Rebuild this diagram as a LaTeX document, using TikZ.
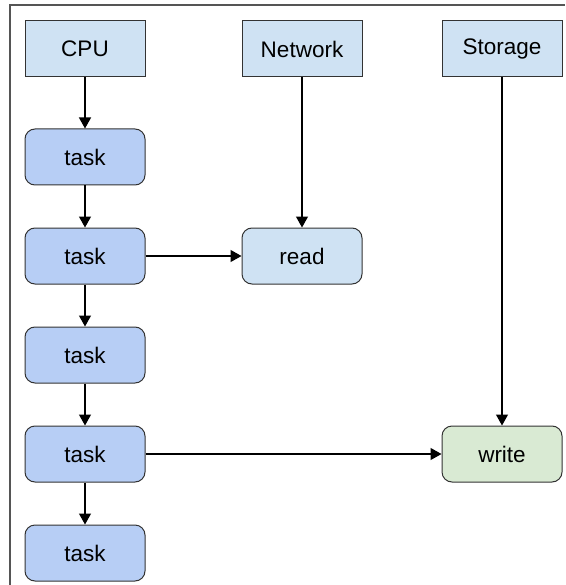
\documentclass[tikz,border=0pt]{standalone}
\usepackage{fontspec}
\setmainfont{Liberation Sans}
\usepackage{tikz}
\usetikzlibrary{arrows.meta, positioning}
\definecolor{cHead}{HTML}{CFE2F3}
\definecolor{cTask}{HTML}{B7CEF5}
\definecolor{cWrite}{HTML}{D9EAD3}
\definecolor{cLine}{HTML}{333333}
\definecolor{cFrame}{HTML}{555555}
\tikzset{
  box/.style={
    rectangle, draw=cLine, line width=1pt, fill=#1,
    minimum width=120pt, minimum height=56pt, inner sep=0pt,
    font=\fontsize{22.5}{25}\selectfont
  },
  hbox/.style={box=cHead},
  tbox/.style={box=cTask, rounded corners=10pt},
  rbox/.style={box=cHead, rounded corners=10pt},
  wbox/.style={box=cWrite, rounded corners=10pt},
  arrow/.style={-{Triangle[length=11pt, width=12pt]}, line width=1.2pt, black},
  frame/.style={line width=1.5pt, cFrame},
}

\begin{document}
\begin{tikzpicture}
  \useasboundingbox (0,0) rectangle (565pt,-585pt);

  % Frame
  \draw[frame] (10pt,-585pt) |- (565pt,-5pt);

  % Resources
  \node[hbox] (cpu) at (85pt,-49pt) {CPU};
  \node[hbox, right=96pt of cpu] (net) {Network};
  \node[hbox, right=79pt of net] (sto) {Storage};

  % Tasks
  \node[tbox, below=51pt of cpu] (t1) {task};
  \node[tbox, below=42pt of t1] (t2) {task};
  \node[tbox, below=42pt of t2] (t3) {task};
  \node[tbox, below=42pt of t3] (t4) {task};
  \node[tbox, below=42pt of t4] (t5) {task};

  % I/O
  \node[rbox] (read) at (net |- t2) {read};
  \node[wbox] (write) at (sto |- t4) {write};

  % Arrows
  \draw[arrow] (cpu) -- (t1);
  \draw[arrow] (t1) -- (t2);
  \draw[arrow] (t2) -- (t3);
  \draw[arrow] (t3) -- (t4);
  \draw[arrow] (t4) -- (t5);
  \draw[arrow] (t2) -- (read);
  \draw[arrow] (t4) -- (write);
  \draw[arrow] (net) -- (read);
  \draw[arrow] (sto) -- (write);

\end{tikzpicture}
\end{document}
